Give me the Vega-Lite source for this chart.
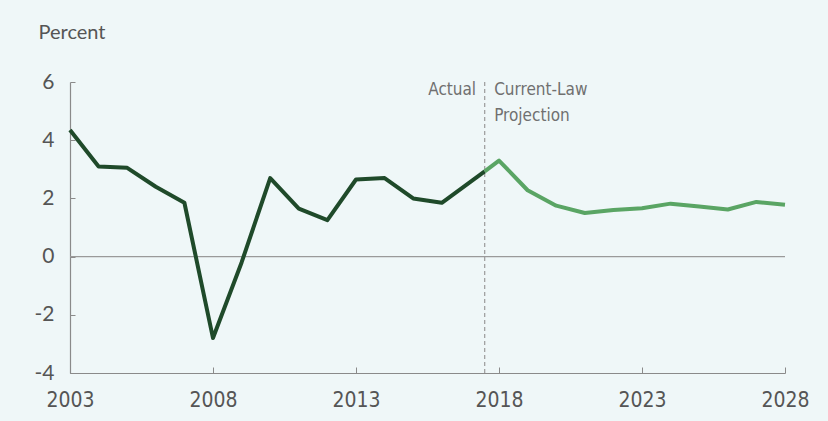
{
  "$schema": "https://vega.github.io/schema/vega-lite/v6.json",
  "width": 715,
  "height": 291,
  "autosize": "none",
  "padding": {"left": 70, "top": 82, "right": 43, "bottom": 48},
  "background": "#eff7f8",
  "config": {"view": {"stroke": null}},
  "datasets": {
    "gdp": [
      {"year": 2003, "value": 4.35, "series": "Actual"},
      {"year": 2004, "value": 3.1, "series": "Actual"},
      {"year": 2005, "value": 3.05, "series": "Actual"},
      {"year": 2006, "value": 2.4, "series": "Actual"},
      {"year": 2007, "value": 1.85, "series": "Actual"},
      {"year": 2008, "value": -2.8, "series": "Actual"},
      {"year": 2009, "value": -0.2, "series": "Actual"},
      {"year": 2010, "value": 2.7, "series": "Actual"},
      {"year": 2011, "value": 1.65, "series": "Actual"},
      {"year": 2012, "value": 1.25, "series": "Actual"},
      {"year": 2013, "value": 2.65, "series": "Actual"},
      {"year": 2014, "value": 2.7, "series": "Actual"},
      {"year": 2015, "value": 2.0, "series": "Actual"},
      {"year": 2016, "value": 1.85, "series": "Actual"},
      {"year": 2017, "value": 2.57, "series": "Actual"},
      {"year": 2017.5, "value": 2.93, "series": "Actual"},
      {"year": 2017.5, "value": 2.93, "series": "Projection"},
      {"year": 2018, "value": 3.3, "series": "Projection"},
      {"year": 2019, "value": 2.28, "series": "Projection"},
      {"year": 2020, "value": 1.75, "series": "Projection"},
      {"year": 2021, "value": 1.5, "series": "Projection"},
      {"year": 2022, "value": 1.6, "series": "Projection"},
      {"year": 2023, "value": 1.66, "series": "Projection"},
      {"year": 2024, "value": 1.82, "series": "Projection"},
      {"year": 2025, "value": 1.72, "series": "Projection"},
      {"year": 2026, "value": 1.62, "series": "Projection"},
      {"year": 2027, "value": 1.88, "series": "Projection"},
      {"year": 2028, "value": 1.78, "series": "Projection"}
    ],
    "labelsLeft": [
      {"year": 2017.2, "value": 5.72, "text": "Actual"}
    ],
    "labelsRight": [
      {"year": 2017.83, "value": 5.72, "text": "Current-Law"},
      {"year": 2017.83, "value": 4.83, "text": "Projection"}
    ],
    "zero": [{"value": 0}],
    "split": [{"year": 2017.5}]
  },
  "layer": [
    {
      "data": {"name": "zero"},
      "mark": {"type": "rule", "color": "#9a9a9a", "strokeWidth": 1.2},
      "encoding": {"y": {"field": "value", "type": "quantitative", "scale": {"domain": [-4, 6]}}}
    },
    {
      "data": {"name": "split"},
      "mark": {"type": "rule", "color": "#9a9a9a", "strokeWidth": 1.2, "strokeDash": [4, 3]},
      "encoding": {"x": {"field": "year", "type": "quantitative", "scale": {"domain": [2003, 2028]}}}
    },
    {
      "data": {"name": "gdp"},
      "mark": {"type": "line", "strokeWidth": 4, "strokeJoin": "round", "strokeCap": "butt"},
      "encoding": {
        "x": {
          "field": "year", "type": "quantitative",
          "scale": {"domain": [2003, 2028], "nice": false, "zero": false},
          "axis": {
            "values": [2003, 2008, 2013, 2018, 2023, 2028],
            "format": "d", "title": null, "grid": false, "labelFlush": false,
            "domainColor": "#8a8a8a", "domainWidth": 1.2,
            "tickColor": "#8a8a8a", "tickSize": -6, "labelPadding": 22,
            "labelFont": "DejaVu Sans Condensed, Roboto", "labelFontSize": 21,
            "labelColor": "#555555"
          }
        },
        "y": {
          "field": "value", "type": "quantitative",
          "scale": {"domain": [-4, 6], "nice": false, "zero": false},
          "axis": {
            "values": [-4, -2, 0, 2, 4, 6],
            "labelExpr": "'' + datum.value",
            "title": "Percent", "titleAngle": 0, "titleX": -32, "titleY": -50,
            "titleAlign": "left", "titleBaseline": "middle",
            "titleFont": "Lato", "titleFontSize": 20, "titleFontWeight": "normal",
            "titleColor": "#555555",
            "grid": false, "labelFlush": false,
            "domainColor": "#8a8a8a", "domainWidth": 1.2,
            "tickColor": "#8a8a8a", "tickSize": -5, "labelPadding": 21,
            "labelFont": "Lato", "labelFontSize": 21, "labelColor": "#555555"
          }
        },
        "color": {
          "field": "series", "type": "nominal",
          "scale": {"domain": ["Actual", "Projection"], "range": ["#1f4a2a", "#5aa564"]},
          "legend": null
        },
        "detail": {"field": "series"}
      }
    },
    {
      "data": {"name": "labelsLeft"},
      "mark": {"type": "text", "font": "DejaVu Sans Condensed, Roboto", "fontSize": 17, "color": "#707070", "baseline": "middle", "align": "right"},
      "encoding": {
        "x": {"field": "year", "type": "quantitative"},
        "y": {"field": "value", "type": "quantitative"},
        "text": {"field": "text"}
      }
    },
    {
      "data": {"name": "labelsRight"},
      "mark": {"type": "text", "font": "DejaVu Sans Condensed, Roboto", "fontSize": 17, "color": "#707070", "baseline": "middle", "align": "left"},
      "encoding": {
        "x": {"field": "year", "type": "quantitative"},
        "y": {"field": "value", "type": "quantitative"},
        "text": {"field": "text"}
      }
    }
  ]
}
